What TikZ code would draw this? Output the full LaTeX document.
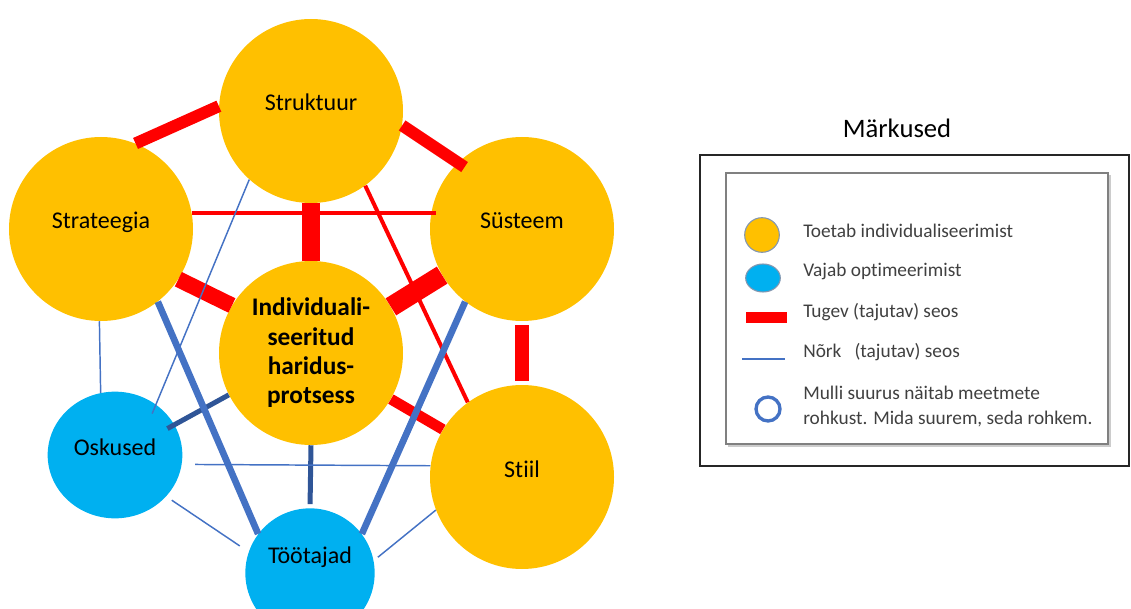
\documentclass[tikz,border=0pt]{standalone}
\usepackage{fontspec}
\setmainfont{Carlito}[Ligatures=NoCommon]
\usetikzlibrary{shapes.geometric}
\definecolor{gold}{HTML}{FFC000}
\definecolor{sky}{HTML}{00B0F0}
\definecolor{lineblue}{HTML}{4472C4}
\definecolor{darkblue}{HTML}{2F5597}
\definecolor{keyedge}{HTML}{8497B0}
\definecolor{keytext}{HTML}{404040}

\begin{document}
\begin{tikzpicture}[x=0.75pt,y=0.75pt,yscale=-1,xscale=1,
  bubble/.style={circle, fill=#1, inner sep=0pt, font=\fontsize{18}{22}\selectfont, text height=12pt, text depth=12pt},
  big/.style={minimum size=138pt},
  small/.style={minimum size=97pt},
  tie/.style={draw=red, line width=#1},
  link/.style={draw=lineblue, line width=#1},
  key/.style={font=\fontsize{14.5}{18.75}\selectfont, text=keytext, inner sep=0pt},
]
\useasboundingbox (0,0) rectangle (1131,609);

%Shape: Circles
\node [bubble=gold, big] (str) at (311,111) {Struktuur};
\node [bubble=gold, big] (strat) at (101,229) {Strateegia};
\node [bubble=gold, big] (sys) at (522,229) {Süsteem};
\node [bubble=gold, big] (stiil) at (522,477) {Stiil};
\node [bubble=sky, ellipse, minimum width=101pt, minimum height=95pt] (osk) at (115,455) {Oskused};
\node [bubble=sky, small, text depth=27pt] (toot) at (310,573) {Töötajad};
\node [circle, fill=gold, big, inner sep=0pt, align=center, font=\bfseries\fontsize{19}{22}\selectfont] (ind) at (311,353) {Individuali-\\seeritud\\haridus-\\protsess};

%Straight Lines: strong ties
\draw [tie=9pt] (str.177) -- (strat.68);
\draw [tie=9pt, shorten >=-6pt] (str.-9) -- (sys.134);
\draw [tie=13.5pt] (str.270) -- (ind.90);
\draw [tie=12pt] (strat.-33) -- (ind.149);
\draw [tie=15pt] (sys.210) -- (ind.30);
\draw [tie=10pt, shorten <=3pt, shorten >=3pt] (sys.270) -- (stiil.90);
\draw [tie=8pt] (ind.-30) -- (stiil.149);
\draw [tie=3pt, shorten >=-4pt] (strat.10) -- (sys.170);
\draw [tie=3pt] (str.-54) -- (stiil.126);

%Straight Lines: weak ties
\draw [draw=darkblue, line width=3.75pt, shorten >=-6pt] (ind.207) -- (osk.27);
\draw [draw=darkblue, line width=3.75pt, shorten >=3pt] (ind.270) -- (toot.90);
\draw [link=1.1pt, shorten <=10pt] (osk.-8) -- (stiil.173);
\draw [link=5pt] (strat.-52) -- (toot.143);
\draw [link=5pt] (sys.232) -- (toot.37);
\draw [link=1.1pt] (strat.269) -- (osk.103);
\draw [link=1.1pt, shorten >=-7.5pt] (str.228) -- (osk.51);
\draw [link=1.1pt, shorten <=5pt, shorten >=8pt] (osk.-39) -- (toot.161);
\draw [link=1.1pt, shorten <=4pt] (toot.11) -- (stiil.201);

% Text Node
\node [font=\fontsize{20}{24}\selectfont] (title) at (897,128) {Märkused};
%Shape: Rectangles
\draw [line width=1.1pt, draw=black!85] (700,155) rectangle (1129,466);
\fill [black!20] (728,175) rectangle (1111,447);
\draw [fill=white, draw=black!50, line width=1pt] (726,173) rectangle (1108,444);

%Shape: key marks
\node [circle, fill=gold, draw=keyedge, line width=0.8pt, minimum size=26pt, inner sep=0pt] (keygold) at (762,235) {};
\node [ellipse, fill=sky, draw=keyedge, line width=0.8pt, minimum width=26pt, minimum height=21pt, inner sep=0pt] (keysky) at (763,278) {};
\fill [red] (746,312) rectangle (787,323);
\draw [lineblue, line width=1.5pt] (742,359) -- (785,359);
\node [circle, draw=lineblue, line width=2.5pt, minimum size=18pt, inner sep=0pt] (keyring) at (768,409) {};

% Text Node
\node [key, anchor=base west] (keyone) at (803,238) {Toetab individualiseerimist};
\node [key, anchor=base west] (keytwo) at (803,277) {Vajab optimeerimist};
\node [key, anchor=base west] (keythree) at (803,318) {Tugev (tajutav) seos};
\node [key, anchor=base west] (keyfour) at (803,358) {Nõrk\ \ \ (tajutav) seos};
\node [key, anchor=west, align=left] (keyfive) at (803,407) {Mulli suurus näitab meetmete\\rohkust. Mida suurem, seda rohkem.};

\end{tikzpicture}
\end{document}
